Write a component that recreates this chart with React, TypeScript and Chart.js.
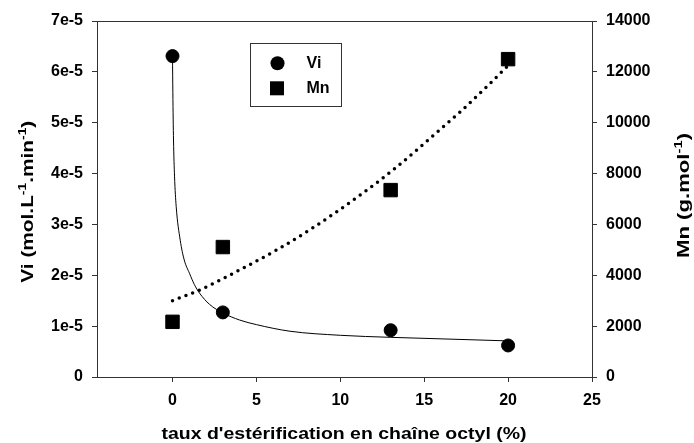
import React, { useEffect, useRef } from "react";
import { Chart, registerables } from "chart.js";

Chart.register(...registerables);

// ---- data ----
const esterification = [0, 3, 13, 20];
const viValues = [6.31e-5, 1.27e-5, 0.92e-5, 0.62e-5];
const mnValues = [2170, 5110, 7350, 12500];

const viFitX = [0, 0.02, 0.06, 0.12, 0.22, 0.46, 0.7, 1.01, 1.3, 1.61, 2.2, 3, 4, 5, 7, 10, 13, 16, 20];
const viFitY = [6.3e-5, 5.6e-5, 4.66e-5, 3.95e-5, 3.35e-5, 2.69e-5, 2.3e-5, 2.04e-5, 1.82e-5, 1.65e-5, 1.43e-5, 1.26e-5, 1.12e-5, 1.03e-5, 0.9e-5, 0.82e-5, 0.78e-5, 0.75e-5, 0.71e-5];

const mnFitX = [0, 1.71, 4.2, 6.27, 8.37, 11.28, 13.38, 15.89, 17.2, 18.84, 20];
const mnFitY = [3000, 3450, 4280, 5020, 5870, 7200, 8270, 9700, 10460, 11490, 12250];

const xTicks = [0, 5, 10, 15, 20, 25];
const viTicks = [0, 1e-5, 2e-5, 3e-5, 4e-5, 5e-5, 6e-5, 7e-5];
const viTickLabels = ["0", "1e-5", "2e-5", "3e-5", "4e-5", "5e-5", "6e-5", "7e-5"];
const mnTicks = [0, 2000, 4000, 6000, 8000, 10000, 12000, 14000];

const legendLabels = ["Vi", "Mn"];
const xTitle = "taux d'estérification en chaîne octyl (%)";
const viTitle: [string, boolean][] = [["Vi (mol.L", false], ["-1", true], [".min", false], ["-1", true], [")", false]];
const mnTitle: [string, boolean][] = [["Mn (g.mol", false], ["-1", true], [")", false]];

const FONT = '"Liberation Sans", Arial, Helvetica, sans-serif';
const AXIS = "#333333";

function drawRich(ctx: CanvasRenderingContext2D, segs: [string, boolean][], cx: number, cy: number, rot: number, target: number, size: number) {
  const main = `bold ${size}px ${FONT}`;
  const sup = `bold ${Math.round(size * 0.68)}px ${FONT}`;
  const widths: number[] = [];
  let w = 0;
  segs.forEach(([t, s]) => {
    ctx.font = s ? sup : main;
    const m = ctx.measureText(t).width;
    widths.push(m);
    w += m;
  });
  ctx.save();
  ctx.translate(cx, cy);
  ctx.rotate(rot);
  ctx.scale(target / w, 1);
  ctx.textBaseline = "alphabetic";
  ctx.textAlign = "left";
  ctx.fillStyle = "#000";
  let x = -w / 2;
  segs.forEach(([t, s], i) => {
    ctx.font = s ? sup : main;
    ctx.fillText(t, x, s ? -size * 0.42 : 0);
    x += widths[i];
  });
  ctx.restore();
}

const decorPlugin = {
  id: "decor",
  afterDraw(chart: any) {
    const ctx: CanvasRenderingContext2D = chart.ctx;
    const a = chart.chartArea;
    // top frame line
    ctx.save();
    ctx.strokeStyle = AXIS;
    ctx.lineWidth = 1;
    ctx.beginPath();
    const ty = Math.round(a.top) + 0.5;
    ctx.moveTo(a.left, ty);
    ctx.lineTo(a.right, ty);
    ctx.stroke();

    // legend box
    const bx = Math.round(a.left + 153) + 0.5;
    const by = Math.round(a.top + 22) + 0.5;
    ctx.strokeRect(bx, by, 91, 63);
    ctx.fillStyle = "#000";
    ctx.beginPath();
    ctx.arc(a.left + 180.5, a.top + 42.3, 7, 0, Math.PI * 2);
    ctx.fill();
    ctx.fillRect(a.left + 173, a.top + 60.3, 14, 14);
    ctx.font = `bold 16px ${FONT}`;
    ctx.textBaseline = "middle";
    ctx.textAlign = "left";
    ctx.fillText(legendLabels[0], a.left + 209.5, a.top + 43);
    ctx.fillText(legendLabels[1], a.left + 209.5, a.top + 68);
    ctx.restore();

    // axis titles
    drawRich(ctx, viTitle, 33, 201.7, -Math.PI / 2, 162, 16.5);
    drawRich(ctx, mnTitle, 689, 195.5, -Math.PI / 2, 125, 16.5);
    drawRich(ctx, [[xTitle, false]], 344, 439, 0, 365, 16.5);
  },
};

export default function App() {
  const ref = useRef<HTMLCanvasElement | null>(null);
  useEffect(() => {
    if (!ref.current) return;
    const tickFont = { family: FONT, size: 16, weight: "bold" as const };
    const chart = new Chart(ref.current, {
      type: "scatter",
      data: {
        datasets: [
          {
            label: legendLabels[0],
            data: esterification.map((x, i) => ({ x, y: viValues[i] })),
            yAxisID: "y",
            pointStyle: "circle",
            pointRadius: 6.5,
            pointBorderWidth: 1,
            backgroundColor: "#000",
            borderColor: "#000",
            order: 0,
          },
          {
            label: legendLabels[1],
            data: esterification.map((x, i) => ({ x, y: mnValues[i] })),
            yAxisID: "y2",
            pointStyle: "rect",
            pointRadius: 9.5,
            pointBorderWidth: 1,
            backgroundColor: "#000",
            borderColor: "#000",
            order: 1,
          },
          {
            label: "Vi fit",
            data: viFitX.map((x, i) => ({ x, y: viFitY[i] })),
            yAxisID: "y",
            showLine: true,
            pointRadius: 0,
            borderColor: "#000",
            borderWidth: 1,
            cubicInterpolationMode: "monotone",
            order: 2,
          },
          {
            label: "Mn fit",
            data: mnFitX.map((x, i) => ({ x, y: mnFitY[i] })),
            yAxisID: "y2",
            showLine: true,
            pointRadius: 0,
            borderColor: "#000",
            borderWidth: 3.5,
            borderDash: [0, 7.2],
            borderCapStyle: "round",
            cubicInterpolationMode: "monotone",
            order: 3,
          },
        ],
      },
      options: {
        animation: false,
        responsive: true,
        maintainAspectRatio: false,
        layout: { padding: { top: 21, left: 0, right: 0, bottom: 0 } },
        plugins: { legend: { display: false }, tooltip: { enabled: false } },
        scales: {
          x: {
            type: "linear",
            position: "bottom",
            min: -4.5,
            max: 25,
            afterBuildTicks: (s: any) => { s.ticks = xTicks.map((v) => ({ value: v })); },
            afterFit: (s: any) => { s.height = 66; },
            grid: { display: true, drawOnChartArea: false, drawTicks: true, tickLength: 5, color: AXIS },
            border: { display: true, color: AXIS },
            ticks: { font: tickFont, color: "#000", padding: 9, maxRotation: 0, autoSkip: false, callback: (v: any) => String(v) },
          },
          y: {
            type: "linear",
            position: "left",
            min: 0,
            max: 7e-5,
            afterBuildTicks: (s: any) => { s.ticks = viTicks.map((v) => ({ value: v })); },
            afterFit: (s: any) => { s.width = 97; },
            grid: { display: true, drawOnChartArea: false, drawTicks: true, tickLength: 5, color: AXIS },
            border: { display: true, color: AXIS },
            ticks: { font: tickFont, color: "#000", padding: 9, autoSkip: false, callback: (_v: any, i: number) => viTickLabels[i] },
          },
          y2: {
            type: "linear",
            position: "right",
            min: 0,
            max: 14000,
            afterBuildTicks: (s: any) => { s.ticks = mnTicks.map((v) => ({ value: v })); },
            afterFit: (s: any) => { s.width = 102; },
            grid: { display: true, drawOnChartArea: false, drawTicks: true, tickLength: 5, color: AXIS },
            border: { display: true, color: AXIS },
            ticks: { font: tickFont, color: "#000", padding: 9, autoSkip: false, callback: (v: any) => String(v) },
          },
        },
      } as any,
      plugins: [decorPlugin],
    });
    return () => chart.destroy();
  }, []);

  return (
    <div style={{ position: "absolute", left: 0, top: 0, width: 694, height: 443, background: "#fff" }}>
      <canvas ref={ref} />
    </div>
  );
}
